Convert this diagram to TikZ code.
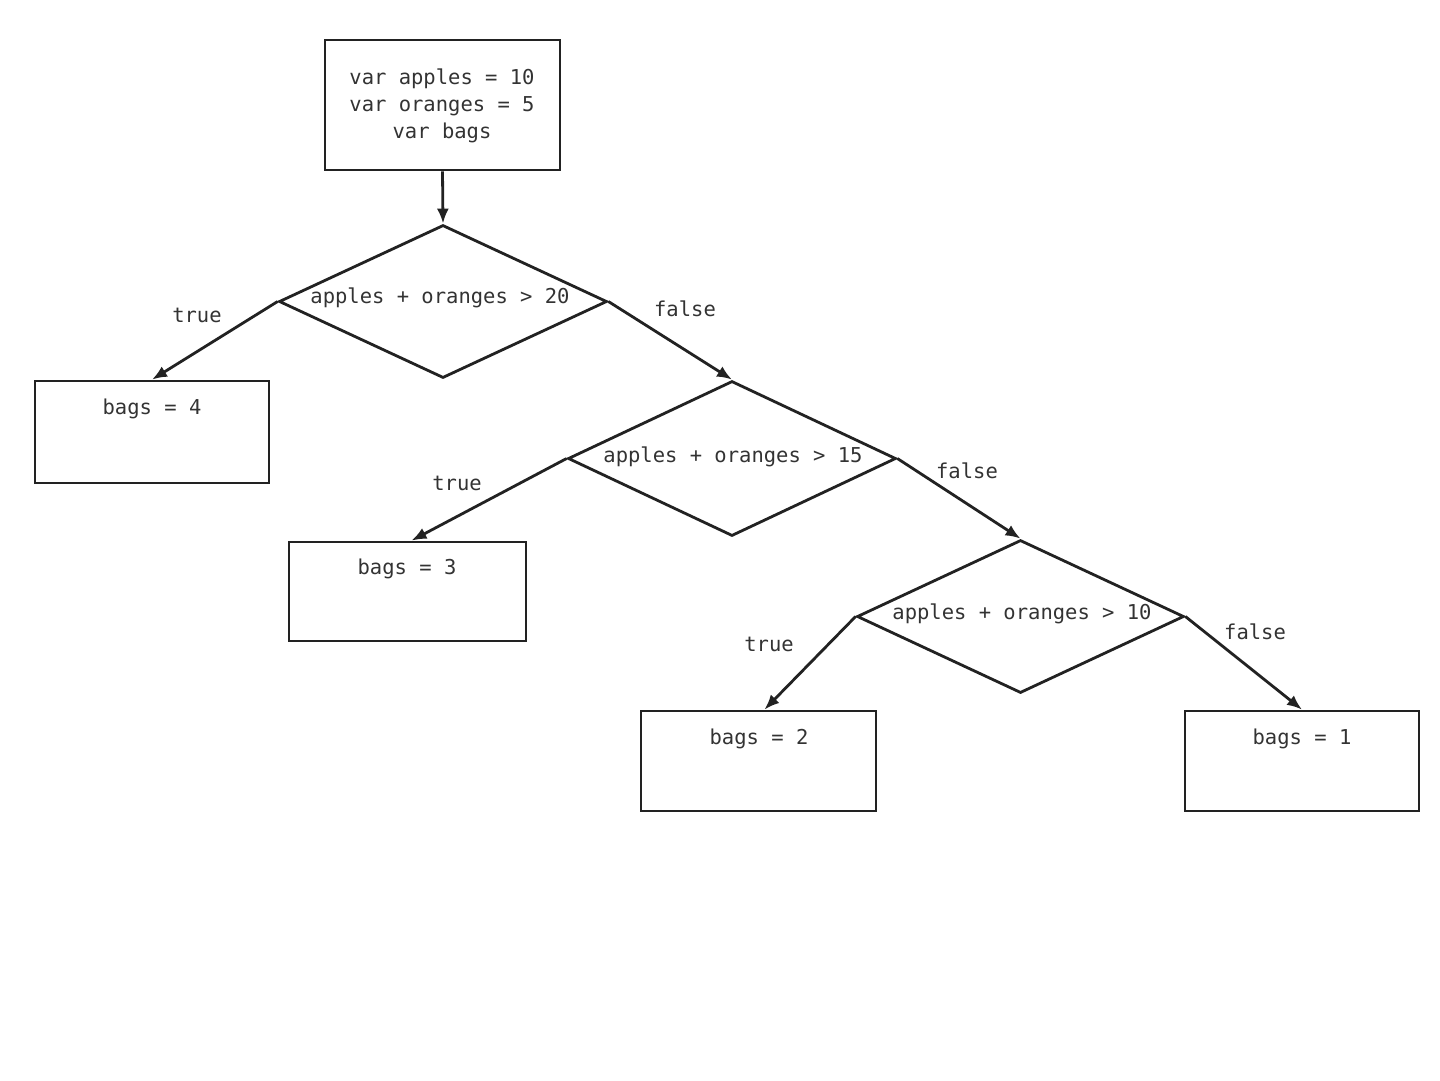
\documentclass[tikz,border=0pt]{standalone}
\usepackage{fontspec}
\setmonofont{DejaVu Sans Mono}
\usetikzlibrary{shapes.geometric,arrows.meta}
\definecolor{ink}{HTML}{222222}
\definecolor{txtc}{HTML}{333333}
\tikzset{
  box/.style={draw=ink, line width=2.8pt, rectangle, inner sep=0pt},
  dia/.style={draw=ink, line width=2.8pt, diamond, inner sep=0pt},
  txt/.style={text=txtc, font=\ttfamily\fontsize{20.5}{27}\selectfont, inner sep=0pt, align=center},
  conn/.style={draw=ink, line width=2.8pt, -{Latex[length=15pt,width=12pt]}}
}
\begin{document}
\begin{tikzpicture}[x=1pt,y=-1pt]
\useasboundingbox (0,0) rectangle (1440,1080);
% start box
\node[box, minimum width=235pt, minimum height=130pt] (s) at (442.5,105) {};
\node[txt] (stxt) at (442,106) {var apples = 10\\var oranges = 5\\var bags};
% diamonds
\node[dia, minimum width=328pt, minimum height=153pt] (d1) at (443,301.5) {};
\node[txt] (d1t) at (440,298) {apples + oranges > 20};
\node[dia, minimum width=328pt, minimum height=155pt] (d2) at (732,458.5) {};
\node[txt] (d2t) at (733,457) {apples + oranges > 15};
\node[dia, minimum width=327pt, minimum height=153pt] (d3) at (1020.5,616.5) {};
\node[txt] (d3t) at (1022,614) {apples + oranges > 10};
% result boxes
\node[box, minimum width=234pt, minimum height=102pt] (b1) at (152,432) {};
\node[txt] (b1t) at (152,409) {bags = 4};
\node[box, minimum width=237pt, minimum height=99pt] (b2) at (407.5,591.5) {};
\node[txt] (b2t) at (407,569) {bags = 3};
\node[box, minimum width=235pt, minimum height=100pt] (b3) at (758.5,761) {};
\node[txt] (b3t) at (759,739) {bags = 2};
\node[box, minimum width=234pt, minimum height=100pt] (b4) at (1302,761) {};
\node[txt] (b4t) at (1302,739) {bags = 1};
% connectors
\draw[conn] (s.south) -- (d1.north);
\draw[conn] (d1.west) -- (b1.north);
\draw[conn] (d1.east) -- (d2.north);
\draw[conn] (d2.west) -- ([xshift=4pt]b2.north);
\draw[conn] (d2.east) -- (d3.north);
\draw[conn] (d3.west) -- ([xshift=6pt]b3.north);
\draw[conn] (d3.east) -- (b4.north);
% labels
\node[txt] (l1) at (197,315) {true};
\node[txt] (l2) at (685,309) {false};
\node[txt] (l3) at (457,483) {true};
\node[txt] (l4) at (967,471) {false};
\node[txt] (l5) at (769,644) {true};
\node[txt] (l6) at (1255,632) {false};
\end{tikzpicture}
\end{document}
